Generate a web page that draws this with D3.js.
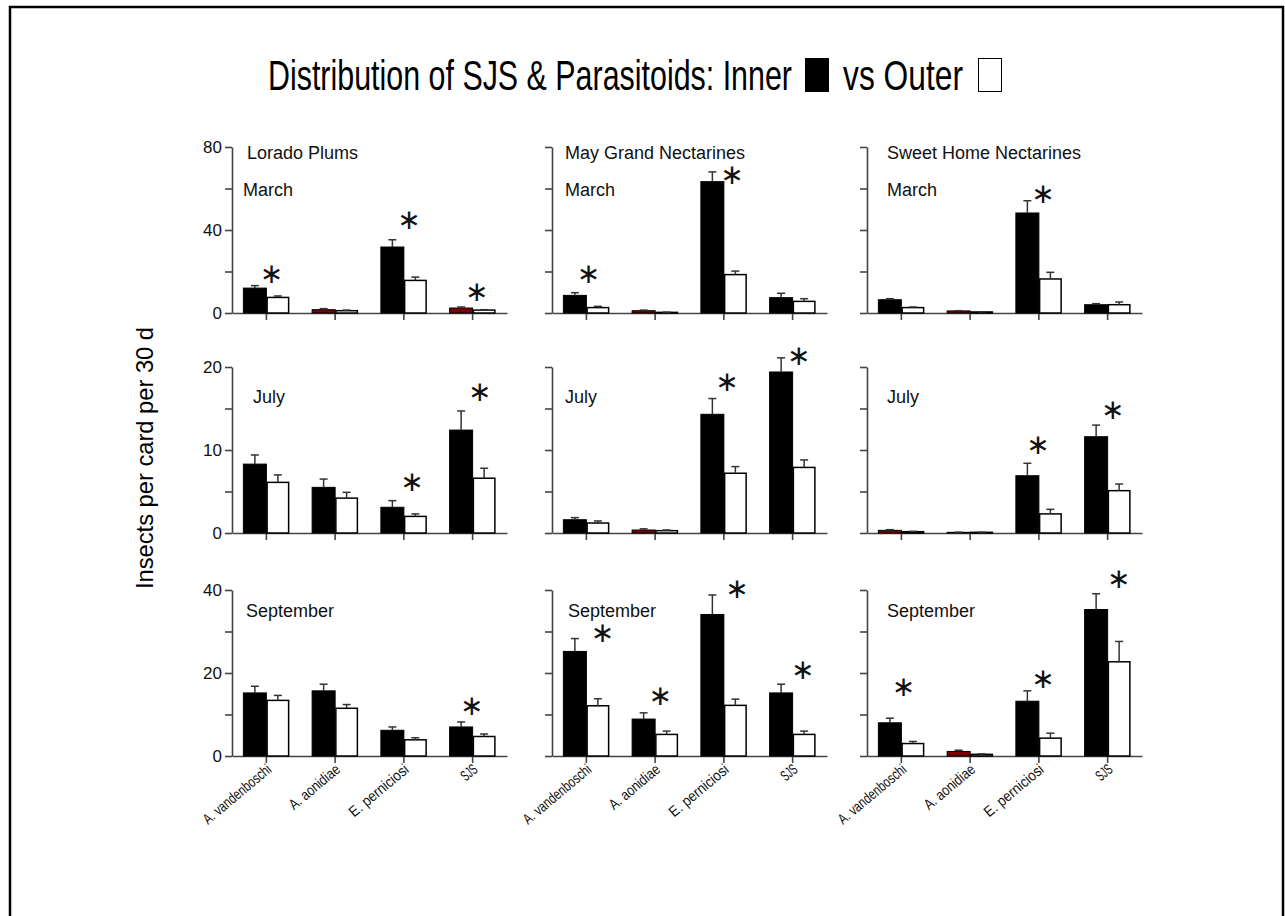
<!DOCTYPE html>
<html>
<head>
<meta charset="utf-8">
<script src="https://cdn.jsdelivr.net/npm/d3@7"></script>
<style>
  body { margin: 0; background: #fff; }
  svg { display: block; font-family: "Liberation Sans", Arial, sans-serif; }
</style>
</head>
<body>
<svg id="chart" width="1285" height="916"></svg>
<script>
// --- données ---
const categories = ["A. vandenboschi", "A. aonidiae", "E. perniciosi", "SJS"];
const crops = ["Lorado Plums", "May Grand Nectarines", "Sweet Home Nectarines"];
const months = ["March", "July", "September"];
const yMax = [80, 20, 40];
const yTicks = [[0, 20, 40, 60, 80], [0, 5, 10, 15, 20], [0, 10, 20, 30, 40]];
const yTickLabels = [[0, 40, 80], [0, 10, 20], [0, 20, 40]];

// un tableau par panneau : ligne (mois) * 3 + colonne (verger)
const innerMean = [
  [12.0, 1.6, 31.8, 2.4], [8.5, 1.1, 63.3, 7.4], [6.4, 1.0, 48.2, 4.0],
  [8.3, 5.5, 3.1, 12.4], [1.6, 0.36, 14.3, 19.4], [0.32, 0.08, 6.9, 11.6],
  [15.2, 15.7, 6.2, 7.0], [25.2, 8.9, 34.1, 15.2], [8.0, 1.1, 13.2, 35.3]
];
const innerSE = [
  [1.2, 0.5, 3.5, 0.5], [1.3, 0.3, 4.7, 2.1], [0.5, 0.1, 5.9, 0.5],
  [1.1, 1.0, 0.8, 2.3], [0.25, 0.14, 1.9, 1.7], [0.08, 0.02, 1.5, 1.4],
  [1.6, 1.6, 0.8, 1.2], [3.1, 1.5, 4.7, 2.1], [1.1, 0.3, 2.5, 3.8]
];
const outerMean = [
  [7.5, 1.1, 15.7, 1.4], [2.6, 0.3, 18.5, 5.6], [2.6, 0.5, 16.4, 4.0],
  [6.1, 4.2, 2.0, 6.6], [1.2, 0.28, 7.2, 7.9], [0.16, 0.08, 2.3, 5.1],
  [13.4, 11.5, 3.9, 4.7], [12.1, 5.2, 12.2, 5.2], [3.0, 0.4, 4.3, 22.7]
];
const outerSE = [
  [0.7, 0.3, 1.6, 0.2], [0.6, 0.1, 1.7, 1.3], [0.3, 0.1, 3.2, 1.3],
  [0.9, 0.7, 0.3, 1.2], [0.25, 0.08, 0.8, 0.9], [0.04, 0.02, 0.55, 0.8],
  [1.2, 0.9, 0.5, 0.6], [1.7, 0.8, 1.5, 0.8], [0.5, 0.1, 1.2, 4.9]
];
// barres "inner" rendues en rouge foncé sur l'original
const redInner = [[1, 3], [1], [1], [], [1], [0], [], [], [1]];
// astérisques : [catégorie, hauteur en unités de l'axe]
const stars = [
  [[0, 19.1], [2, 44.8], [3, 10.3]],
  [[0, 19.1], [2, 66.5]],
  [[2, 57.7]],
  [[2, 6.2], [3, 17.0]],
  [[2, 18.2], [3, 21.4]],
  [[2, 10.6], [3, 14.9]],
  [[3, 12.0]],
  [[0, 29.6], [1, 14.5], [2, 40.4], [3, 20.7]],
  [[0, 16.7], [2, 18.7], [3, 42.6]]
];

// --- mise en page ---
const colX = [232, 552, 867];
const rowTop = [147, 367, 590];
const plotW = 275, plotH = 166, barW = 23;
const starNudge = [[5, 5, 4], [2, 8], [4], [8, 7], [3, 6], [-1, 5], [-1], [16, 5, 13, 10], [2, 4, 11]];
const cropDx = [15, 13, 20];
const monthDx = [[11, 13, 20], [21, 13, 20], [14, 16, 20]];
const monthDy = [48.5, 36, 26.5];
const darkRed = "#7d0000";

const svg = d3.select("#chart");

// cadre
svg.append("rect")
  .attr("x", 10).attr("y", 7).attr("width", 1273).attr("height", 940)
  .attr("fill", "none").attr("stroke", "#000").attr("stroke-width", 2.5);

// titre + légende (police étroite simulée avec textLength)
const titleFont = 42;
svg.append("text")
  .attr("x", 268).attr("y", 90)
  .attr("font-size", titleFont).attr("textLength", 524).attr("lengthAdjust", "spacingAndGlyphs")
  .text("Distribution of SJS & Parasitoids: Inner");
svg.append("rect").attr("x", 805).attr("y", 58).attr("width", 24).attr("height", 34).attr("fill", "#000");
svg.append("text")
  .attr("x", 843).attr("y", 90)
  .attr("font-size", titleFont).attr("textLength", 120).attr("lengthAdjust", "spacingAndGlyphs")
  .text("vs Outer");
svg.append("rect").attr("x", 978.5).attr("y", 58.5).attr("width", 23).attr("height", 33)
  .attr("fill", "#fff").attr("stroke", "#000").attr("stroke-width", 1);

// titre axe Y
svg.append("text")
  .attr("transform", "translate(153,458) rotate(-90)")
  .attr("text-anchor", "middle")
  .attr("font-size", 24).attr("textLength", 262).attr("lengthAdjust", "spacingAndGlyphs")
  .text("Insects per card per 30 d");

months.forEach((month, r) => {
  crops.forEach((crop, c) => {
    const p = r * 3 + c;
    const x0 = colX[c], y0 = rowTop[r];
    const g = svg.append("g").attr("transform", `translate(${x0},${y0})`);

    const x = d3.scaleBand().domain(categories).range([0, plotW]);
    const y = d3.scaleLinear().domain([0, yMax[r]]).range([plotH, 0]);
    const cx = d => x(d) + x.bandwidth() / 2;

    // axes
    const yAxis = d3.axisLeft(y)
      .tickValues(yTicks[r]).tickSize(7).tickSizeOuter(0).tickPadding(3)
      .tickFormat(v => (c === 0 && yTickLabels[r].includes(v)) ? v : "");
    const ya = g.append("g").call(yAxis);

    const xAxis = d3.axisBottom(x).tickSize(7).tickSizeOuter(0).tickFormat("");
    const xa = g.append("g").attr("transform", `translate(0,${plotH})`).call(xAxis);

    [ya, xa].forEach(a => {
      a.selectAll("path, line").attr("stroke", "#444").attr("stroke-width", 1.6);
      a.selectAll("text").attr("font-size", 17).attr("fill", "#111")
        .attr("font-family", "Liberation Sans, Arial, sans-serif");
    });

    if (r === 2) {
      g.append("g")
        .selectAll("text")
        .data(categories)
        .join("text")
        .attr("transform", d => `translate(${cx(d) + 6},${plotH + 15}) rotate(-40)`)
        .attr("text-anchor", "end")
        .attr("font-size", 15)
        .attr("fill", "#111")
        .attr("textLength", d => d.length * 5.6)
        .attr("lengthAdjust", "spacingAndGlyphs")
        .text(d => d);
    }

    // barres inner
    g.append("g")
      .selectAll("rect")
      .data(categories)
      .join("rect")
      .attr("x", d => cx(d) - barW)
      .attr("y", (d, i) => y(innerMean[p][i]))
      .attr("width", barW)
      .attr("height", (d, i) => plotH - y(innerMean[p][i]))
      .attr("fill", (d, i) => redInner[p].includes(i) ? darkRed : "#000")
      .attr("stroke", "#000").attr("stroke-width", 1);

    // barres outer
    g.append("g")
      .selectAll("rect")
      .data(categories)
      .join("rect")
      .attr("x", d => cx(d) + 0.75)
      .attr("y", (d, i) => y(outerMean[p][i]))
      .attr("width", barW - 1.5)
      .attr("height", (d, i) => plotH - y(outerMean[p][i]))
      .attr("fill", "#fff")
      .attr("stroke", "#000").attr("stroke-width", 1.5);

    // barres d'erreur (vers le haut seulement)
    const errs = [];
    categories.forEach((d, i) => {
      errs.push({ x: cx(d) - barW / 2, m: innerMean[p][i], se: innerSE[p][i] });
      errs.push({ x: cx(d) + barW / 2, m: outerMean[p][i], se: outerSE[p][i] });
    });
    const eg = g.append("g").attr("stroke", "#333").attr("stroke-width", 1.5);
    eg.selectAll("line.v").data(errs).join("line").attr("class", "v")
      .attr("x1", d => d.x).attr("x2", d => d.x)
      .attr("y1", d => y(d.m)).attr("y2", d => y(d.m + d.se));
    eg.selectAll("line.h").data(errs).join("line").attr("class", "h")
      .attr("x1", d => d.x - 4).attr("x2", d => d.x + 4)
      .attr("y1", d => y(d.m + d.se)).attr("y2", d => y(d.m + d.se));

    // astérisques (glyphe à 6 branches)
    g.append("g")
      .selectAll("text")
      .data(stars[p])
      .join("text")
      .attr("x", (d, k) => cx(categories[d[0]]) + starNudge[p][k])
      .attr("y", d => y(d[1]))
      .attr("dy", "0.33em")
      .attr("text-anchor", "middle")
      .attr("font-family", "DejaVu Sans, sans-serif")
      .attr("font-size", 28)
      .attr("fill", "#111")
      .text("\u2217");

    // libellés
    if (r === 0) {
      g.append("text")
        .attr("x", cropDx[c]).attr("y", 12)
        .attr("font-size", 18).attr("fill", "#111")
        .text(crop);
    }
    g.append("text")
      .attr("x", monthDx[r][c]).attr("y", monthDy[r])
      .attr("font-size", 18).attr("fill", "#111")
      .text(month);
  });
});
</script>
</body>
</html>
